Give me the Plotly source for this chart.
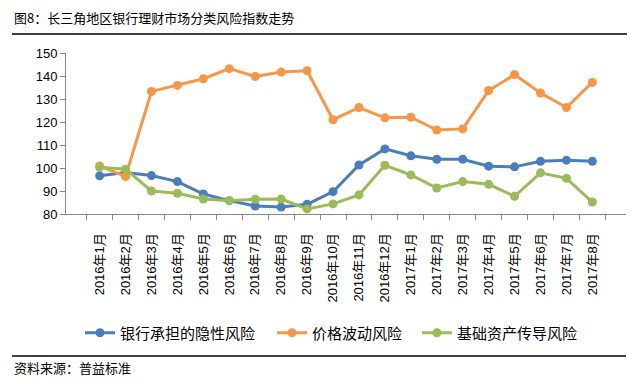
import plotly.graph_objects as go

months = ["2016年1月", "2016年2月", "2016年3月", "2016年4月", "2016年5月", "2016年6月",
          "2016年7月", "2016年8月", "2016年9月", "2016年10月", "2016年11月", "2016年12月",
          "2017年1月", "2017年2月", "2017年3月", "2017年4月", "2017年5月", "2017年6月",
          "2017年7月", "2017年8月"]

bank_hidden = [96.6, 98.0, 96.7, 94.1, 88.7, 85.8, 83.5, 83.0, 84.2, 89.7, 101.3, 108.3,
               105.3, 103.8, 103.8, 100.8, 100.5, 102.9, 103.4, 102.9]
price_vol = [100.9, 96.3, 133.3, 135.9, 138.8, 143.2, 139.8, 141.7, 142.3, 121.0, 126.3, 121.8,
             122.1, 116.5, 117.0, 133.7, 140.6, 132.6, 126.3, 137.2]
base_asset = [100.3, 99.5, 90.0, 89.0, 86.5, 85.8, 86.4, 86.5, 82.2, 84.4, 88.3, 101.2,
              97.0, 91.3, 94.1, 92.9, 87.7, 97.9, 95.5, 85.2]

series_names = ["银行承担的隐性风险", "价格波动风险", "基础资产传导风险"]
colors = ["#4A7EBB", "#F79646", "#9BBB59"]

title_text = "图8：长三角地区银行理财市场分类风险指数走势"
source_text = "资料来源：普益标准"
yticks = [80, 90, 100, 110, 120, 130, 140, 150]

FONT = "Liberation Sans, Arial, Noto Sans CJK SC, sans-serif"
CJK = "Noto Sans CJK SC, sans-serif"

# page body has an 8px margin: lay out in window pixels, shifted by OFF
OFF = 8
W, H = 641 - 2 * OFF, 384 - 2 * OFF
PX0, PX1, PY0, PY1 = 66, 626, 53, 214
L, R, T, B = PX0 - OFF, W - (PX1 - OFF), PY0 - OFF, H - (PY1 - OFF)
pw, ph = PX1 - PX0, PY1 - PY0
def px(x): return (x - PX0) / pw
def py(y): return (PY1 - y) / ph

legend_ids = ["legend", "legend2", "legend3"]
legend_text_x = [122, 314, 459]  # window px where each legend text begins

fig = go.Figure()
for name, vals, c, lid in zip(series_names, [bank_hidden, price_vol, base_asset], colors, legend_ids):
    fig.add_trace(go.Scatter(
        x=months, y=vals, name=name, mode="lines+markers",
        line=dict(color=c, width=3),
        marker=dict(color=c, size=9, symbol="circle"),
        legend=lid,
    ))

legend_common = dict(orientation="h", xanchor="left", yanchor="middle", y=py(333),
                     font=dict(family=CJK, size=15, color="#000000"),
                     bgcolor="rgba(0,0,0,0)", borderwidth=0)

layout_legends = {}
for lid, tx in zip(legend_ids, legend_text_x):
    layout_legends[lid] = dict(legend_common, x=px(tx - 42))

fig.update_layout(
    width=W, height=H,
    margin=dict(l=L, r=R, t=T, b=B, pad=0),
    paper_bgcolor="white", plot_bgcolor="white",
    font=dict(family=FONT, size=12, color="#000000"),
    showlegend=True,
    **layout_legends,
    xaxis=dict(
        type="category", tickangle=-90, showgrid=False,
        showline=True, linecolor="#868686", linewidth=1,
        ticks="outside", ticklen=5, tickcolor="#868686", tickson="boundaries",
        tickfont=dict(family=FONT, size=13, color="#000000"),
        ticklabelstandoff=13,
    ),
    yaxis=dict(
        range=[80, 150], tickvals=yticks, showgrid=False, zeroline=False,
        showline=True, linecolor="#868686", linewidth=1,
        ticks="outside", ticklen=5, tickcolor="#868686",
        tickfont=dict(family=FONT, size=13, color="#000000"),
    ),
    annotations=[
        dict(text=title_text, xref="paper", yref="paper", x=px(12), y=py(18),
             xanchor="left", yanchor="middle", showarrow=False,
             font=dict(family=CJK, size=13, color="#000000")),
        dict(text=source_text, xref="paper", yref="paper", x=px(12), y=py(367),
             xanchor="left", yanchor="middle", showarrow=False,
             font=dict(family=CJK, size=13, color="#000000")),
    ],
    shapes=[
        dict(type="line", xref="paper", yref="paper", x0=px(12), x1=px(627), y0=py(34), y1=py(34),
             line=dict(color="black", width=1.5)),
        dict(type="line", xref="paper", yref="paper", x0=px(12), x1=px(626), y0=py(356), y1=py(356),
             line=dict(color="black", width=1.5)),
    ],
)

fig.write_html("out.html")
